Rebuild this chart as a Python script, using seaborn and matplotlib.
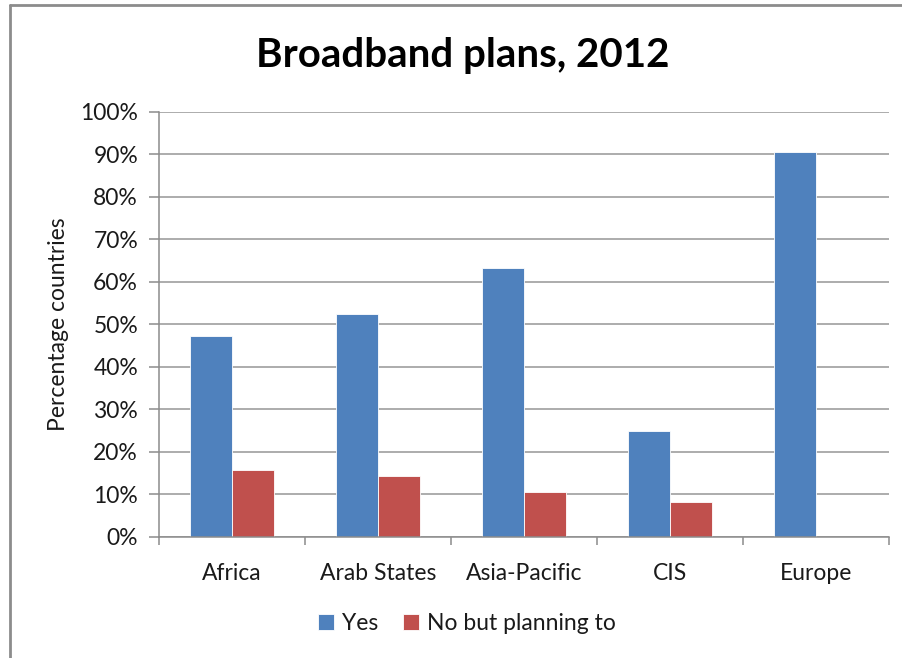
import matplotlib
matplotlib.use("Agg")
import matplotlib.pyplot as plt
import seaborn as sns
import pandas as pd
from matplotlib.ticker import FixedLocator, PercentFormatter
from matplotlib.lines import Line2D

# Broadband plan status by region, 2012 (share of countries, %)
regions = ["Africa", "Arab States", "Asia-Pacific", "CIS", "Europe"]
yes_share = [47.4, 52.4, 63.2, 25.0, 90.7]
planning_share = [15.8, 14.3, 10.5, 8.3, 0.0]
series_names = ["Yes", "No but planning to"]
series_colors = ["#4F81BD", "#C0504D"]

df = pd.DataFrame({
    "Region": regions * 2,
    "Share": yes_share + planning_share,
    "Status": [series_names[0]] * len(regions) + [series_names[1]] * len(regions),
})

sns.set_theme(style="white")
plt.rcParams["font.family"] = ["Lato", "DejaVu Sans"]

TEXT = "#1a1a1a"
FS = 16.5

fig = plt.figure(figsize=(9.03, 6.58), dpi=100)
ax = fig.add_axes([0.176, 0.1839, 0.8085, 0.6459])

sns.barplot(data=df, x="Region", y="Share", hue="Status", order=regions,
            hue_order=series_names, palette=series_colors, width=0.57,
            edgecolor="white", linewidth=0.6, saturation=1, ax=ax)

ax.set_ylim(0, 100)
ax.set_xlim(-0.5, len(regions) - 0.5)
ax.yaxis.set_major_locator(FixedLocator(range(0, 101, 10)))
ax.yaxis.set_major_formatter(PercentFormatter(decimals=0))
ax.grid(axis="y", color="#A6A6A6", linewidth=1.3)
ax.set_axisbelow(True)

# category separators as minor ticks on the x axis
ax.xaxis.set_minor_locator(FixedLocator([i - 0.5 for i in range(len(regions) + 1)]))
ax.tick_params(axis="x", which="major", length=0, pad=19, labelsize=FS, labelcolor=TEXT)
ax.tick_params(axis="x", which="minor", length=6, width=1.1, color="#8C8C8C", direction="out", bottom=True)
ax.tick_params(axis="y", length=7, width=1.1, color="#8C8C8C", direction="out", left=True,
               labelsize=FS, labelcolor=TEXT, pad=8)

for side in ["top", "right"]:
    ax.spines[side].set_visible(False)
for side in ["left", "bottom"]:
    ax.spines[side].set_color("#8C8C8C")
    ax.spines[side].set_linewidth(1.1)

ax.set_xlabel("")
ax.set_ylabel("Percentage countries", fontsize=FS, color=TEXT, labelpad=8)

fig.text(0.512, 0.916, "Broadband plans, 2012", ha="center", va="center",
         fontsize=29, fontweight="bold", color="black")

leg = ax.legend(loc="center", bbox_to_anchor=(0.517, 0.053), bbox_transform=fig.transFigure,
                ncol=2, frameon=False, fontsize=FS, handlelength=0.7, handleheight=0.7,
                handletextpad=0.35, columnspacing=1.1)
for t in leg.get_texts():
    t.set_color(TEXT)

# chart area frame (top and left edges visible)
fig.add_artist(Line2D([0.0111, 0.0111], [0.0, 0.9917], transform=fig.transFigure,
                      color="#8C8C8C", linewidth=2))
fig.add_artist(Line2D([0.0111, 1.0], [0.9917, 0.9917], transform=fig.transFigure,
                      color="#8C8C8C", linewidth=2))

fig.savefig("out.png", dpi=100, facecolor="white")
